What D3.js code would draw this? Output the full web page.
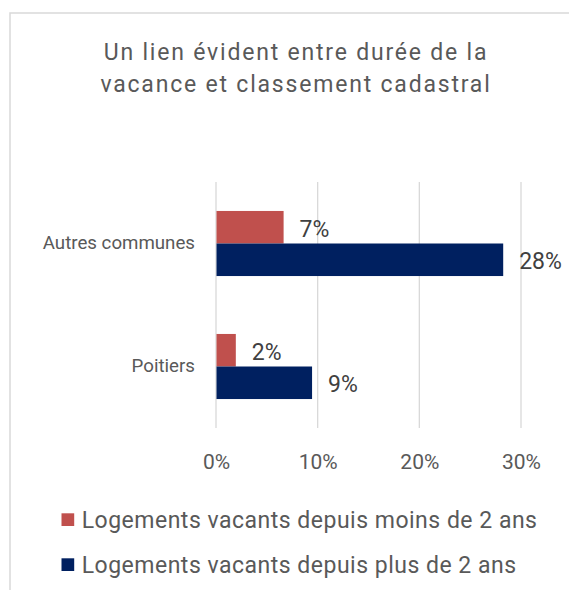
<!DOCTYPE html>
<html>
<head>
<meta charset="utf-8">
<script src="https://cdn.jsdelivr.net/npm/d3@7"></script>
<style>
  body { margin: 0; background: #fff; }
  svg { display: block; font-family: Roboto, sans-serif; }
</style>
</head>
<body>
<div id="chart"></div>
<script>
const categories = ['Autres communes', 'Poitiers'];
const seriesNames = [
  'Logements vacants depuis moins de 2 ans',
  'Logements vacants depuis plus de 2 ans',
];
const moinsDe2Ans = [0.066, 0.019];
const plusDe2Ans = [0.282, 0.094];
const tickValues = [0, 0.1, 0.2, 0.3];
const titleLines = ['Un lien évident entre durée de la', 'vacance et classement cadastral'];
const colors = ['#C0504D', '#002060'];

const width = 569;
const height = 590;

const rows = categories.map((c, i) => ({
  cat: c,
  values: [
    { key: seriesNames[0], value: moinsDe2Ans[i] },
    { key: seriesNames[1], value: plusDe2Ans[i] },
  ],
}));

const svg = d3.select('#chart').append('svg')
  .attr('width', width)
  .attr('height', height);

// chart frame (only left and top edges visible)
svg.append('rect')
  .attr('x', 10)
  .attr('y', 13)
  .attr('width', 700)
  .attr('height', 700)
  .attr('fill', 'none')
  .attr('stroke', '#d9d9d9')
  .attr('stroke-width', 1.5);

svg.append('g').selectAll('text')
  .data(titleLines)
  .join('text')
  .attr('x', 296)
  .attr('y', (d, i) => 60 + i * 32)
  .attr('text-anchor', 'middle')
  .attr('font-size', 23)
  .attr('letter-spacing', 1.8)
  .attr('fill', '#595959')
  .text(d => d);

const x = d3.scaleLinear().domain([0, 0.3]).range([216, 521]);
const y0 = d3.scaleBand().domain(categories).range([182, 428]).padding(0);
const y1 = d3.scaleBand().domain(seriesNames).range([0, y0.bandwidth()])
  .paddingInner(0)
  .paddingOuter(0.89);
const color = d3.scaleOrdinal().domain(seriesNames).range(colors);

// gridlines
svg.append('g').selectAll('line')
  .data(tickValues)
  .join('line')
  .attr('x1', d => x(d))
  .attr('x2', d => x(d))
  .attr('y1', 182)
  .attr('y2', 428)
  .attr('stroke', '#d9d9d9')
  .attr('stroke-width', 1.3);

const xAxis = svg.append('g')
  .attr('transform', 'translate(0,428)')
  .call(d3.axisBottom(x).tickValues(tickValues).tickSize(0).tickPadding(26)
    .tickFormat(d3.format('.0%')));
xAxis.select('.domain').remove();
xAxis.selectAll('text')
  .attr('font-size', 21)
  .attr('font-family', 'Roboto, sans-serif')
  .attr('fill', '#595959');

const yAxis = svg.append('g')
  .attr('transform', 'translate(216,0)')
  .call(d3.axisLeft(y0).tickSize(0).tickPadding(21));
yAxis.select('.domain').remove();
yAxis.selectAll('text')
  .attr('font-size', 18.7)
  .attr('font-family', 'Roboto, sans-serif')
  .attr('fill', '#595959');

const groups = svg.append('g').selectAll('g')
  .data(rows)
  .join('g')
  .attr('transform', d => `translate(0,${y0(d.cat)})`);

groups.selectAll('rect')
  .data(d => d.values)
  .join('rect')
  .attr('x', x(0) + 0.5)
  .attr('y', d => y1(d.key))
  .attr('width', d => x(d.value) - x(0))
  .attr('height', y1.bandwidth())
  .attr('fill', d => color(d.key));

groups.selectAll('text')
  .data(d => d.values)
  .join('text')
  .attr('x', d => x(d.value) + 16.5)
  .attr('y', d => y1(d.key) + y1.bandwidth() / 2 + 1)
  .attr('dy', '0.36em')
  .attr('font-size', 23)
  .attr('fill', '#404040')
  .text(d => d3.format('.0%')(d.value));

// legend
const legend = svg.append('g').selectAll('g')
  .data(seriesNames)
  .join('g')
  .attr('transform', (d, i) => `translate(61.5,${528 + i * 45})`);

legend.append('rect')
  .attr('x', 0)
  .attr('y', -14.7)
  .attr('width', 12.7)
  .attr('height', 12.7)
  .attr('fill', d => color(d));

legend.append('text')
  .attr('x', 20.2)
  .attr('y', 0)
  .attr('font-size', 23)
  .attr('letter-spacing', 0.5)
  .attr('fill', '#595959')
  .text(d => d);
</script>
</body>
</html>
